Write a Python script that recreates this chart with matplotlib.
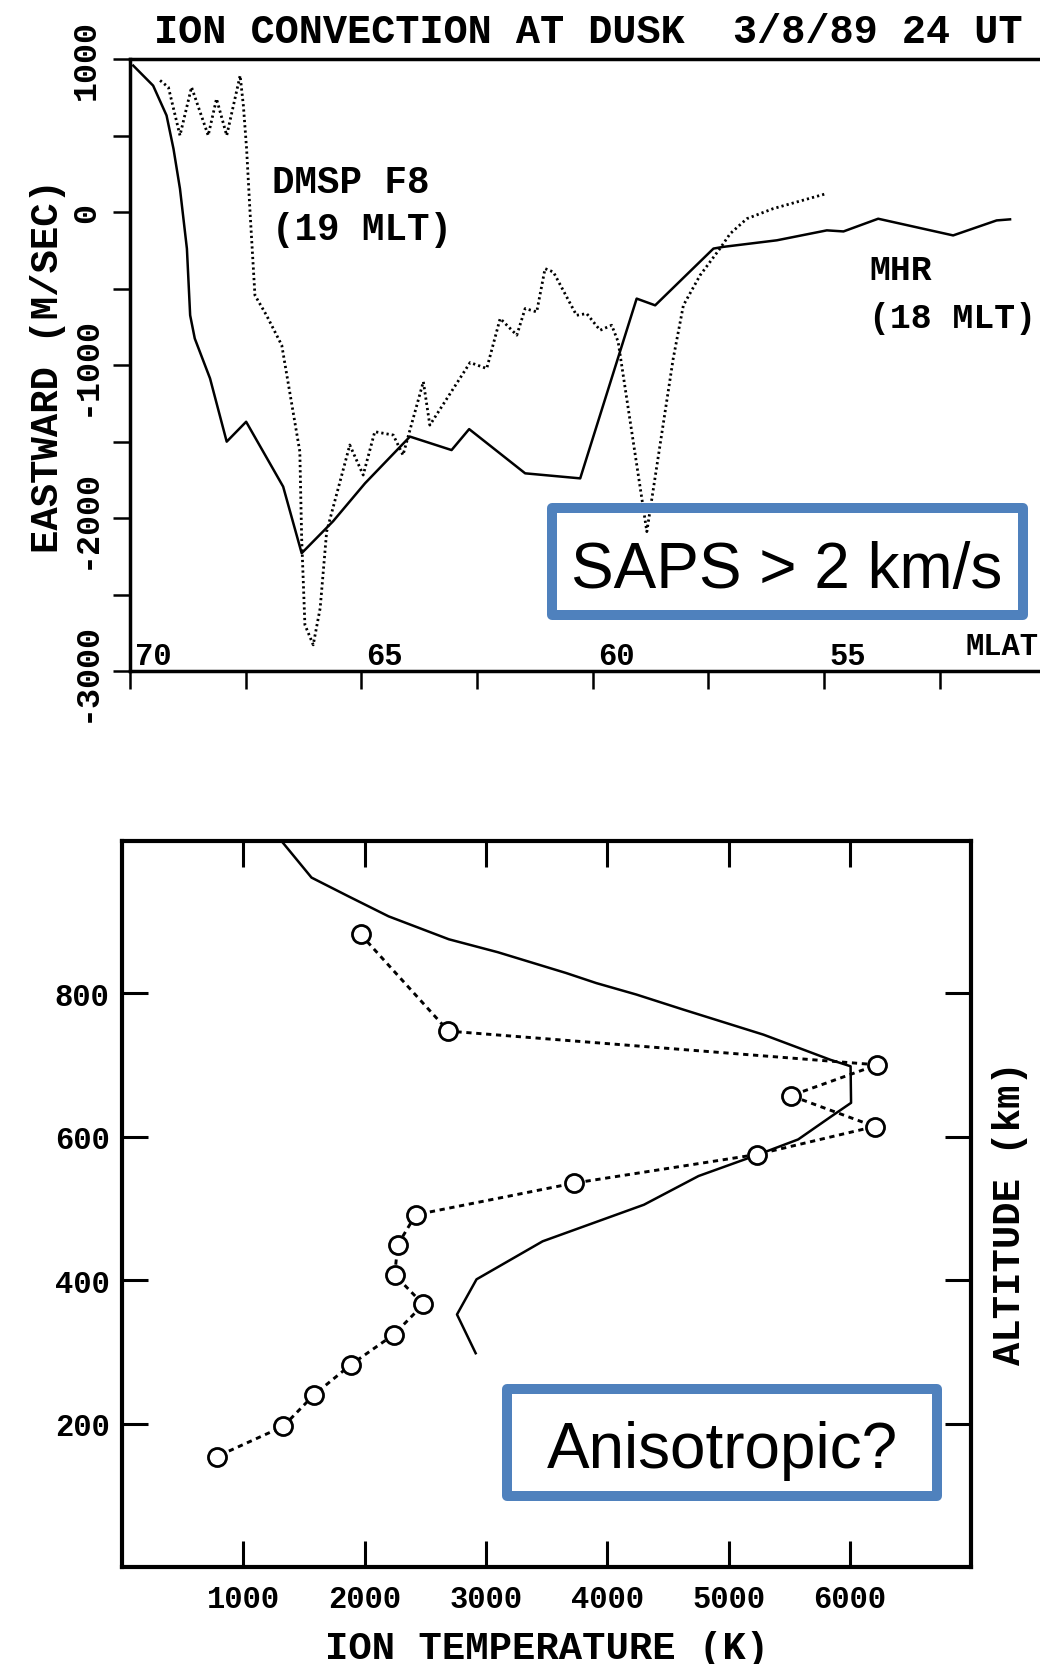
import matplotlib
matplotlib.use('Agg')
import matplotlib.pyplot as plt
from matplotlib import transforms
from matplotlib.patches import Rectangle

# top panel: eastward ion drift vs magnetic latitude
mlat_mhr = [69.93, 69.50, 69.21, 69.06, 68.92, 68.77, 68.70, 68.60, 68.38, 68.27,
            67.91, 67.49, 66.69, 66.29, 65.61, 64.92, 63.95, 63.05, 62.67, 61.46,
            60.27, 59.05, 58.65, 57.39, 57.18, 56.02, 54.94, 54.58, 53.83, 52.21,
            51.27, 50.98]
vel_mhr = [957, 826, 631, 413, 152, -240, -675, -827, -1001, -1088,
           -1501, -1371, -1795, -2230, -2021, -1773, -1468, -1556, -1419, -1708,
           -1741, -566, -610, -239, -228, -185, -120, -127, -44, -153,
           -55, -48]

mlat_dmsp = [69.35, 69.17, 68.92, 68.67, 68.31, 68.13, 67.91, 67.62, 67.55, 67.48,
             67.41, 67.30, 67.05, 66.72, 66.33, 66.29, 66.22, 66.04, 65.89, 65.75,
             65.25, 64.96, 64.71, 64.31, 64.10, 63.66, 63.52, 62.65, 62.29, 62.00,
             61.64, 61.46, 61.21, 61.03, 60.85, 60.35, 60.13, 59.84, 59.59, 59.45,
             58.83, 58.26, 58.04, 57.68, 57.25, 57.03, 56.67, 56.10, 54.95]
vel_dmsp = [860, 815, 500, 816, 500, 740, 500, 892, 696, 413,
            22, -544, -675, -871, -1565, -2132, -2698, -2829, -2589, -2089,
            -1523, -1719, -1436, -1458, -1589, -1109, -1393, -984, -1023, -696,
            -805, -631, -653, -370, -392, -675, -664, -773, -740, -848,
            -2089, -958, -610, -414, -239, -142, -44, 22, 120]

vel_ticks = [1000, 500, 0, -500, -1000, -1500, -2000, -2500, -3000]
vel_labels = ['1000', '', '0', '', '-1000', '', '-2000', '', '-3000']
mlat_ticks = [70, 67.5, 65, 62.5, 60, 57.5, 55, 52.5, 50]
mlat_labels = [70, 65, 60, 55]

# bottom panel: ion temperature profiles
temp_model = [1324, 1562, 1865, 2197, 2694, 3097, 3660, 3908, 4239, 4626,
              5288, 5839, 6005, 6009, 5845, 5573, 5245, 4752, 4302, 3467,
              2922, 2761, 2915]
alt_model = [1010, 961, 935, 907, 875, 857, 828, 814, 798, 777,
             742, 707, 698, 647, 628, 596, 575, 545, 505, 454,
             401, 352, 298]

temp_obs = [1966, 2690, 6225, 5513, 6204, 5231, 3722, 2421, 2272, 2248,
            2484, 2240, 1886, 1582, 1329, 782]
alt_obs = [882, 747, 700, 657, 614, 575, 535, 491, 449, 407,
           366, 324, 282, 240, 196, 154]

temp_ticks = [1000, 2000, 3000, 4000, 5000, 6000]
alt_ticks = [200, 400, 600, 800]

OLD = 'Liberation Mono'
BOX = '#4F81BD'

plt.rcParams['axes.unicode_minus'] = False
fig = plt.figure(figsize=(10.4, 16.65), dpi=100)

# ---- top panel ----
ax1 = fig.add_axes([130 / 1040, 1 - 672 / 1665, 925.4 / 1040, 612 / 1665])
ax1.plot(mlat_mhr, vel_mhr, color='black', lw=1.8)
ax1.plot(mlat_dmsp, vel_dmsp, color='black', lw=2.0, ls=(0, (0.8, 1.1)))
ax1.set_xlim(70, 50)
ax1.set_ylim(-3000, 1000)
ax1.spines['right'].set_visible(False)
for s in ['left', 'top', 'bottom']:
    ax1.spines[s].set_linewidth(2.5)

ax1.set_yticks(vel_ticks)
ax1.set_yticklabels(vel_labels, rotation=90, va='center', family=OLD,
                    weight='bold', fontsize=24)
ax1.tick_params(axis='y', direction='out', length=12, width=1.8, pad=8)
ax1.set_xticks(mlat_ticks)
ax1.set_xticklabels([])
ax1.tick_params(axis='x', direction='out', length=13, width=1.8)

lab_tr = transforms.offset_copy(ax1.get_xaxis_transform(), fig=fig, x=5, y=7, units='dots')
for v in mlat_labels:
    ax1.text(v, 0, str(v), transform=lab_tr, ha='left', va='baseline',
             family=OLD, weight='bold', fontsize=22)
mlat_tr = transforms.offset_copy(ax1.get_xaxis_transform(), fig=fig, x=0, y=17, units='dots')
ax1.text(51.95, 0, 'MLAT', transform=mlat_tr, ha='left', va='baseline',
         family=OLD, weight='bold', fontsize=22)

ax1.set_ylabel('EASTWARD (M/SEC)', family=OLD, weight='bold', fontsize=28, va='center')
ax1.yaxis.set_label_coords(-0.0885, 0.5)
ax1.set_title('ION CONVECTION AT DUSK  3/8/89 24 UT', loc='left', x=0.026, y=1.0278,
              pad=0, va='baseline', family=OLD, weight='bold', fontsize=29)

txt = dict(transform=ax1.transAxes, ha='left', va='baseline', family=OLD,
           weight='bold', fontsize=27)
ax1.text(0.1534, 0.7827, 'DMSP F8', **txt)
ax1.text(0.1534, 0.7059, '(19 MLT)', **txt)
txt['fontsize'] = 25
ax1.text(0.7986, 0.6405, 'MHR', **txt)
ax1.text(0.7986, 0.5621, '(18 MLT)', **txt)

# ---- bottom panel ----
ax2 = fig.add_axes([122 / 1040, 1 - 1568 / 1665, 849.3 / 1040, 726 / 1665])
ax2.plot(temp_model, alt_model, color='black', lw=1.8)
ax2.plot(temp_obs, alt_obs, color='black', lw=2.1, ls=(0, (1.8, 1.6)),
         marker='o', ms=13, mfc='white', mec='black', mew=2.0)
ax2.set_xlim(0, 7000)
ax2.set_ylim(0, 1012)
for s in ax2.spines.values():
    s.set_linewidth(3)
ax2.set_xticks(temp_ticks)
ax2.set_xticklabels([str(t) for t in temp_ticks], family=OLD, weight='bold', fontsize=22)
ax2.set_yticks(alt_ticks)
ax2.set_yticklabels([str(a) for a in alt_ticks], family=OLD, weight='bold', fontsize=22)
ax2.tick_params(direction='in', top=True, right=True, length=19, width=2.2)
ax2.tick_params(axis='x', pad=12)
ax2.tick_params(axis='y', pad=9)
ax2.set_xlabel('ION TEMPERATURE (K)', family=OLD, weight='bold', fontsize=28, va='baseline')
ax2.xaxis.set_label_coords(0.5, -0.1250)
ax2.yaxis.set_label_position('right')
ax2.set_ylabel('ALTITUDE (km)', family=OLD, weight='bold', fontsize=28,
               rotation=90, va='center', rotation_mode='default')
ax2.yaxis.set_label_coords(1.0456, 0.489)

# ---- highlight boxes ----
fig.add_artist(Rectangle((552 / 1040, 1 - 616 / 1665), 471 / 1040, 107 / 1665,
                         transform=fig.transFigure, fc='none', ec=BOX, lw=7.2,
                         joinstyle='round', zorder=10))
fig.text(787 / 1040, 1 - 588 / 1665, 'SAPS > 2 km/s', ha='center', va='baseline',
         family='Liberation Sans', fontsize=46, zorder=11)
fig.add_artist(Rectangle((507 / 1040, 1 - 1497 / 1665), 430 / 1040, 107 / 1665,
                         transform=fig.transFigure, fc='none', ec=BOX, lw=7.2,
                         joinstyle='round', zorder=10))
fig.text(722 / 1040, 1 - 1468 / 1665, 'Anisotropic?', ha='center', va='baseline',
         family='Liberation Sans', fontsize=46, zorder=11)

fig.savefig('out.png', dpi=100)
